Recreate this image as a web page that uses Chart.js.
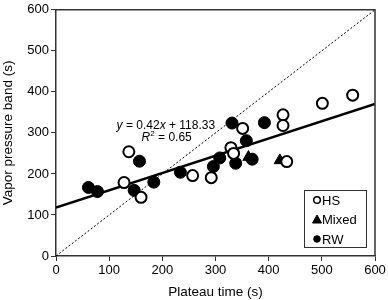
<!DOCTYPE html>
<html>
<head>
<meta charset="utf-8">
<script src="https://cdn.jsdelivr.net/npm/chart.js@4"></script>
<style>
  html, body { margin: 0; padding: 0; background: #fff; }
  #wrap { width: 388px; height: 300px; position: relative; }
</style>
</head>
<body>
<div id="wrap"><canvas id="scatterChart"></canvas></div>
<script>
// Data: [plateau time, vapor pressure band] in seconds
const hsPoints = [
    [137, 254], [128, 179], [160, 143], [257, 196], [292, 191], [329, 264],
    [334, 250], [351, 311], [427, 344], [427, 318], [434, 230], [501, 372], [558, 392]
];
const mixedPoints = [
    [421, 233], [362, 241]
];
const rwPoints = [
    [61, 167], [78, 157], [147, 160], [157, 231], [184, 180], [234, 204],
    [296, 218], [308, 239], [331, 324], [358, 281], [338, 226], [369, 236], [392, 325]
];
const seriesLabels = ['HS', 'Mixed', 'RW'];

// Regression y = 0.42x + 118.33, R² = 0.65
const fitSlope = 0.42;
const fitIntercept = 118.33;
const fitR2 = 0.65;
const axisMin = 0;
const axisMax = 600;
const tickStep = 100;

const FONT = 'Liberation Sans, Arial, sans-serif';

function toXY(list) {
    return list.map(p => ({ x: p[0], y: p[1] }));
}

// frame around plot area, equation text and boxed legend
const extrasPlugin = {
    id: 'extras',
    afterDraw(chart) {
        const ctx = chart.ctx;
        const a = chart.chartArea;
        const sx = chart.scales.x, sy = chart.scales.y;
        ctx.save();

        ctx.strokeStyle = '#333';
        ctx.lineWidth = 1.5;
        ctx.beginPath();
        ctx.moveTo(a.left, a.top);
        ctx.lineTo(a.right, a.top);
        ctx.lineTo(a.right, a.bottom);
        ctx.stroke();

        // equation
        ctx.fillStyle = '#000';
        ctx.textBaseline = 'middle';
        const ex = sx.getPixelForValue(114), ey = sy.getPixelForValue(318);
        const parts = [
            ['italic 12px ' + FONT, 'y'],
            ['12px ' + FONT, ' = ' + fitSlope.toFixed(2)],
            ['italic 12px ' + FONT, 'x'],
            ['12px ' + FONT, ' + ' + fitIntercept.toFixed(2)]
        ];
        let cx = ex;
        parts.forEach(([f, t]) => {
            ctx.font = f;
            ctx.fillText(t, cx, ey);
            cx += ctx.measureText(t).width;
        });
        const rx = sx.getPixelForValue(161), ry = sy.getPixelForValue(289);
        ctx.font = 'italic 12px ' + FONT;
        ctx.fillText('R', rx, ry);
        let rw = ctx.measureText('R').width;
        ctx.font = '8px ' + FONT;
        ctx.fillText('2', rx + rw, ry - 4);
        rw += ctx.measureText('2').width;
        ctx.font = '12px ' + FONT;
        ctx.fillText(' = ' + fitR2.toFixed(2), rx + rw, ry);

        // legend box
        const bx = 304, by = 190, bw = 62, bh = 57;
        ctx.strokeStyle = '#333';
        ctx.lineWidth = 1;
        ctx.strokeRect(bx + 0.5, by + 0.5, bw, bh);
        ctx.font = '13px ' + FONT;
        ctx.textBaseline = 'middle';
        chart.data.datasets.slice(0, 3).forEach((ds, i) => {
            const ly = by + 10 + i * 19.5;
            const mx = bx + 13;
            ctx.fillStyle = ds.backgroundColor;
            ctx.strokeStyle = '#000';
            ctx.lineWidth = ds.label === 'HS' ? 1.5 : 1;
            ctx.beginPath();
            if (ds.pointStyle === 'triangle') {
                ctx.moveTo(mx, ly - 4.5);
                ctx.lineTo(mx + 4.5, ly + 3.5);
                ctx.lineTo(mx - 4.5, ly + 3.5);
                ctx.closePath();
            } else {
                ctx.arc(mx, ly, 3.3, 0, Math.PI * 2);
            }
            ctx.fill();
            ctx.stroke();
            ctx.fillStyle = '#000';
            ctx.fillText(ds.label, mx + 5, ly + 1);
        });
        ctx.restore();
    }
};

const ctx = document.getElementById('scatterChart').getContext('2d');
new Chart(ctx, {
    type: 'scatter',
    data: {
        datasets: [
            {
                label: seriesLabels[0],
                data: toXY(hsPoints),
                order: 1,
                pointStyle: 'circle',
                pointRadius: 5.5,
                backgroundColor: '#fff',
                borderColor: '#000',
                borderWidth: 2
            },
            {
                label: seriesLabels[1],
                data: toXY(mixedPoints),
                order: 3,
                pointStyle: 'triangle',
                pointRadius: 6.5,
                backgroundColor: '#000',
                borderColor: '#000',
                borderWidth: 1
            },
            {
                label: seriesLabels[2],
                data: toXY(rwPoints),
                order: 2,
                pointStyle: 'circle',
                pointRadius: 6,
                backgroundColor: '#000',
                borderColor: '#000',
                borderWidth: 1
            },
            {
                label: 'fit',
                type: 'line',
                order: 4,
                data: [
                    { x: axisMin, y: fitIntercept + fitSlope * axisMin },
                    { x: axisMax, y: fitIntercept + fitSlope * axisMax }
                ],
                borderColor: '#000',
                borderWidth: 2.5,
                pointRadius: 0,
                fill: false
            },
            {
                label: '1:1',
                type: 'line',
                order: 5,
                data: [{ x: axisMin, y: axisMin }, { x: axisMax, y: axisMax }],
                borderColor: '#000',
                borderWidth: 1,
                borderDash: [2, 2],
                pointRadius: 0,
                fill: false
            }
        ]
    },
    options: {
        responsive: true,
        maintainAspectRatio: false,
        animation: false,
        layout: { padding: { top: 7, right: 13, left: 0, bottom: 0 } },
        plugins: {
            legend: { display: false },
            tooltip: { enabled: false }
        },
        scales: {
            x: {
                type: 'linear',
                min: axisMin,
                max: axisMax,
                ticks: { stepSize: tickStep, color: '#000', font: { family: FONT, size: 13 }, padding: 2, maxRotation: 0 },
                grid: { drawOnChartArea: false, tickLength: 5, color: '#333', lineWidth: 1 },
                border: { color: '#333', width: 1.5 },
                title: { display: true, text: 'Plateau time (s)', color: '#000', font: { family: FONT, size: 13.5 }, padding: { top: 3, bottom: 0 } },
                afterFit(scale) { scale.height = 44; }
            },
            y: {
                type: 'linear',
                min: axisMin,
                max: axisMax,
                ticks: { stepSize: tickStep, color: '#000', font: { family: FONT, size: 13 }, padding: 2 },
                grid: { drawOnChartArea: false, tickLength: 5, color: '#333', lineWidth: 1 },
                border: { color: '#333', width: 1.5 },
                title: { display: true, text: 'Vapor pressure band (s)', color: '#000', font: { family: FONT, size: 13.5 }, padding: { top: 0, bottom: 3 } },
                afterFit(scale) { scale.width = 56; }
            }
        }
    },
    plugins: [extrasPlugin]
});
</script>
</body>
</html>
